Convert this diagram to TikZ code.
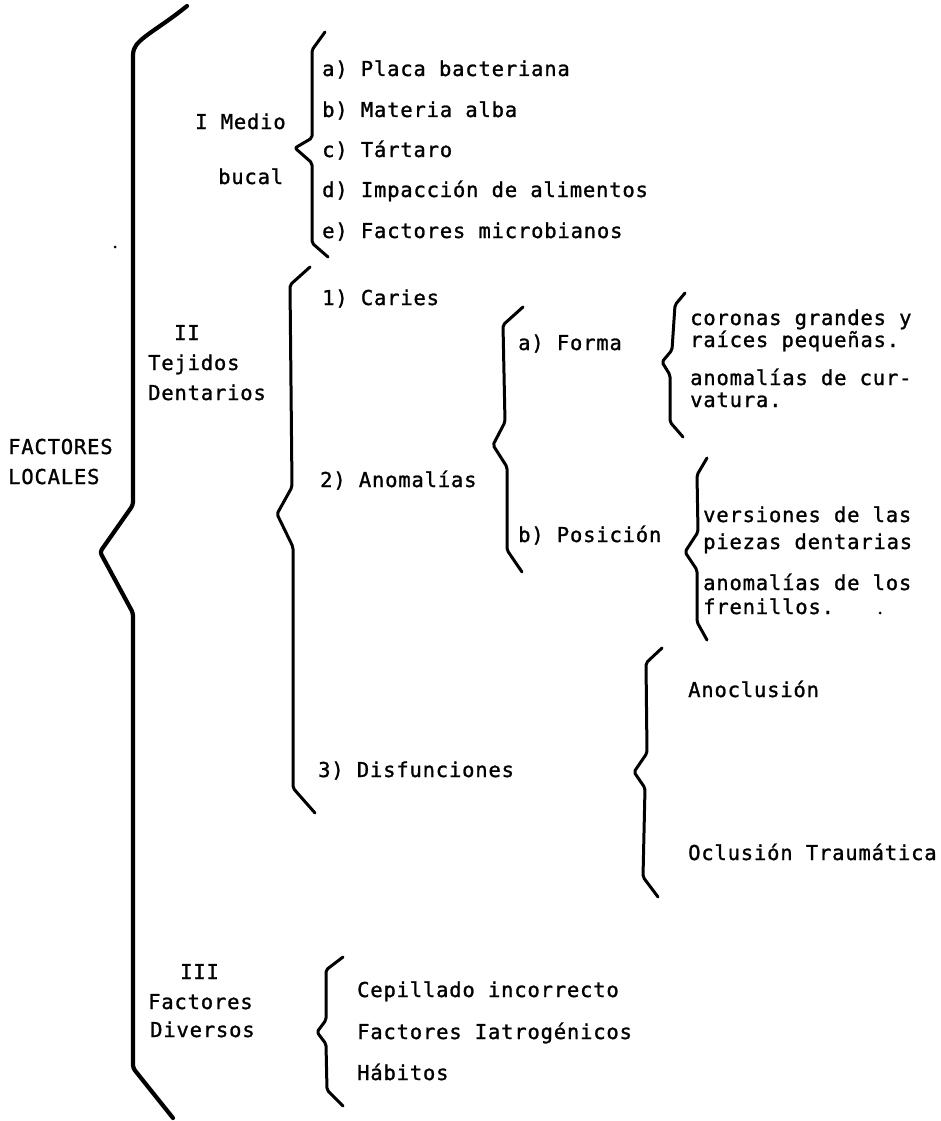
\documentclass[tikz,border=0pt]{standalone}
\usepackage{fontspec}
\setmainfont[LetterSpace=4.0,FakeBold=1.2]{DejaVu Sans Mono}
\begin{document}
\begin{tikzpicture}[x=1pt,y=-1pt,
  txt/.style={anchor=base west, inner sep=0pt, font=\fontsize{20.5}{24}\selectfont},
  bigbrace/.style={line width=4.2pt, line join=round, line cap=round, rounded corners=3pt},
  brace/.style={line width=3pt, line join=round, line cap=round, rounded corners=2pt},
  speck/.style={fill=black, inner sep=0pt, circle, minimum size=3pt}]
\useasboundingbox[fill=white] (0,0) rectangle (941,1121);

% ---- main brace
\draw[bigbrace] (187,6) .. controls (160,28) and (138,38) .. (133,52) -- (133,505) -- (100,552) -- (133,613) -- (133,1068) -- (173,1118);
\node[txt] (fac) at (8,454) {FACTORES};
\node[txt] (loc) at (8,484) {LOCALES};

% ---- I Medio bucal
\node[txt] (medio) at (195,129) {I Medio};
\node[txt] (bucal) at (218,184) {bucal};
\draw[brace] (325,32) -- (312,50) -- (312,138) -- (295,148) -- (312,163) -- (312,243) -- (328,257);
\node[txt] (ia) at (322,76) {a) Placa bacteriana};
\node[txt] (ib) at (322,117) {b) Materia alba};
\node[txt] (ic) at (322,157) {c) Tártaro};
\node[txt] (id) at (322,197) {d) Impacción de alimentos};
\node[txt] (ie) at (322,238) {e) Factores microbianos};

% ---- II Tejidos Dentarios
\node[txt] (two) at (174,340) {II};
\node[txt] (tej) at (148,370) {Tejidos};
\node[txt] (den) at (148,400) {Dentarios};
\draw[brace] (310,267) -- (290,285) -- (292,487) -- (277,514) -- (293,547) -- (293,788) -- (315,813);
\node[txt] (car) at (322,305) {1) Caries};
\node[txt] (ano) at (320,487) {2) Anomalías};
\node[txt] (dis) at (318,777) {3) Disfunciones};

% ---- Anomalias
\draw[brace] (523,307) -- (503,325) -- (505,422) -- (493,445) -- (507,467) -- (507,550) -- (522,572);
\node[txt] (forma) at (518,350) {a) Forma};
\node[txt] (pos) at (518,542) {b) Posición};

\draw[brace] (685,293) -- (675,305) -- (672,350) -- (662,362) -- (670,375) -- (670,422) -- (683,437);
\node[txt] (f1) at (690,325) {coronas grandes y};
\node[txt] (f2) at (690,347) {raíces pequeñas.};
\node[txt] (f3) at (690,385) {anomalías de cur-};
\node[txt] (f4) at (690,407) {vatura.};

\draw[brace] (707,458) -- (697,475) -- (698,532) -- (685,552) -- (697,570) -- (697,622) -- (707,640);
\node[txt] (p1) at (703,522) {versiones de las};
\node[txt] (p2) at (703,549) {piezas dentarias};
\node[txt] (p3) at (703,590) {anomalías de los};
\node[txt] (p4) at (703,614) {frenillos.};
\node[speck] (dot1) at (880,613) {};

% ---- Disfunciones
\draw[brace] (662,648) -- (646,663) -- (647,753) -- (634,772) -- (645,788) -- (643,877) -- (658,897);
\node[txt] (anoc) at (688,697) {Anoclusión};
\node[txt] (ocl) at (688,860) {Oclusión Traumática};

% ---- III Factores Diversos
\node[txt] (three) at (180,979) {III};
\node[txt] (fd1) at (148,1009) {Factores};
\node[txt] (fd2) at (150,1037) {Diversos};
\draw[brace] (343,957) -- (326,970) -- (326,1020) -- (317,1032) -- (326,1044) -- (327,1090) -- (343,1106);
\node[txt] (c1) at (357,997) {Cepillado incorrecto};
\node[txt] (c2) at (357,1039) {Factores Iatrogénicos};
\node[txt] (c3) at (357,1080) {Hábitos};

\node[speck] (dot2) at (115,247) {};
\end{tikzpicture}
\end{document}
